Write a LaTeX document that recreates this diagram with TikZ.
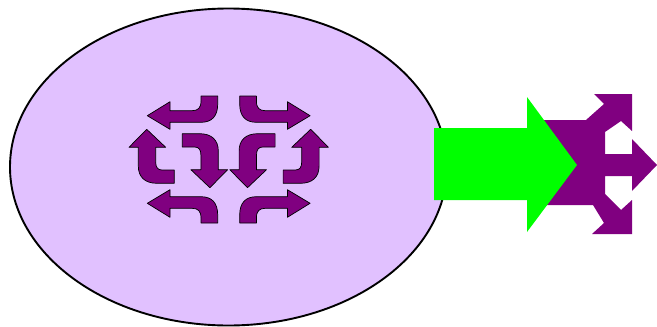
\documentclass[tikz,border=0pt]{standalone}
\definecolor{lav}{HTML}{E1C1FF}
\definecolor{purp}{HTML}{800080}
\definecolor{grn}{HTML}{00FF00}
\tikzset{
  blob/.style={draw=black, line width=1.9pt, fill=lav},
  curvedarrow/.style={fill=purp, draw=black, line width=0.7pt, line join=round},
  forkshape/.style={fill=purp},
  bigarrow/.style={fill=grn},
  harrow/.pic={
    \path[curvedarrow] (-27.7,-63.5) -- (-11,-63.5) -- (-11,-55.5)
      .. controls (-11,-43.5) and (-16.7,-37.2) .. (-27.7,-37.2)
      -- (-58.7,-37.2) -- (-58.7,-30.2) -- (-81.4,-43.8) -- (-58.7,-57.8)
      -- (-58.7,-48.8) -- (-36.7,-48.8)
      .. controls (-30.7,-48.8) and (-27.7,-51.5) .. (-27.7,-58.5) -- cycle;
  },
  varrow/.pic={
    \path[curvedarrow] (-82,-30.2) -- (-63,-12.2) -- (-73,-12.2) -- (-73,2.5)
      .. controls (-73,7.5) and (-71.2,10.5) .. (-66.7,10.5)
      -- (-54.4,10.5) -- (-54.4,23.8) -- (-71.7,23.8)
      .. controls (-83.7,23.8) and (-90.4,17.5) .. (-90.4,6.5)
      -- (-90.4,-12.2) -- (-99.7,-12.2) -- cycle;
  }
}
\begin{document}
\begin{tikzpicture}[x=1pt,y=-1pt]
\useasboundingbox (0,0) rectangle (657,327);
% ellipse
\draw[blob] (228.5,167) ellipse [x radius=218.5, y radius=158.5];
% circular arrows group
\begin{scope}[shift={(228.7,159.5)}]
  \pic {harrow};
  \pic[xscale=-1] {harrow};
  \pic[yscale=-1] {harrow};
  \pic[xscale=-1,yscale=-1] {harrow};
  \pic {varrow};
  \pic[xscale=-1] {varrow};
  \pic[shift={(-100.8,-2)},xscale=-1,yscale=-1] {varrow};
  \pic[shift={(100.8,-2)},yscale=-1] {varrow};
\end{scope}
% purple fork
\path[forkshape] (540,120) -- (586,120) -- (604,104) -- (594,94) -- (632,94)
  -- (632,131) -- (621,121) -- (605,132) -- (605,154) -- (632,154)
  -- (632,139) -- (657,165) -- (632,191) -- (632,176) -- (605,176)
  -- (605,194) -- (621,210) -- (632,200) -- (632,234) -- (592,234)
  -- (604,223) -- (593,205) -- (540,205) -- cycle;
% green arrow
\path[bigarrow] (434,128) -- (527,128) -- (527,97) -- (577,165) -- (527,232)
  -- (527,200) -- (434,200) -- cycle;
\end{tikzpicture}
\end{document}
